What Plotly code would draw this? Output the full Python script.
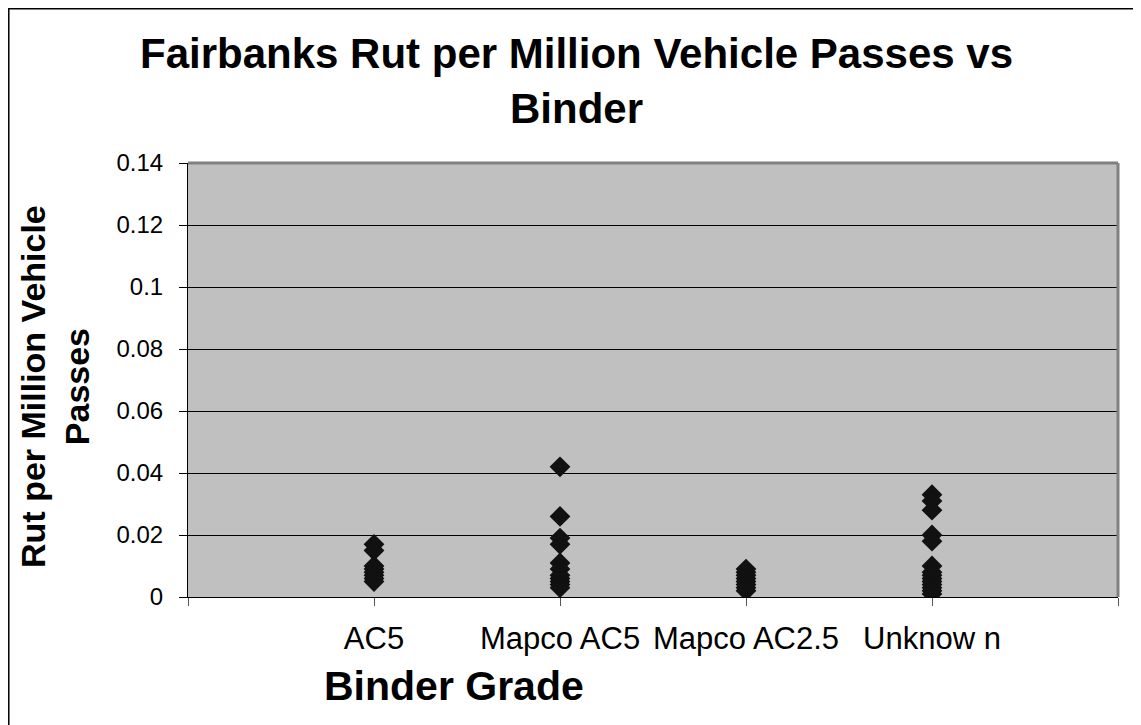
import plotly.graph_objects as go

categories = ["AC5", "Mapco AC5", "Mapco AC2.5", "Unknow n"]
ac5 = [0.017, 0.015, 0.010, 0.009, 0.008, 0.007, 0.006, 0.005]
mapco_ac5 = [0.042, 0.026, 0.019, 0.017, 0.011, 0.009, 0.007, 0.006, 0.005, 0.004, 0.003]
mapco_ac25 = [0.009, 0.008, 0.007, 0.006, 0.005, 0.004, 0.003, 0.002]
unknown = [0.033, 0.031, 0.028, 0.020, 0.018, 0.010, 0.008, 0.007, 0.006, 0.005,
           0.004, 0.003, 0.002, 0.001]
series = [ac5, mapco_ac5, mapco_ac25, unknown]
y_ticks = [0, 0.02, 0.04, 0.06, 0.08, 0.1, 0.12, 0.14]
y_tick_text = ["0", "0.02", "0.04", "0.06", "0.08", "0.1", "0.12", "0.14"]

xs, ys = [], []
for i, vals in enumerate(series):
    xs += [i + 1] * len(vals)
    ys += vals

FONT = "Liberation Sans, Arial, sans-serif"

fig = go.Figure()
fig.add_trace(go.Scatter(
    x=xs, y=ys, mode="markers",
    marker=dict(symbol="diamond", size=16, color="#111111", line=dict(width=0)),
    showlegend=False, hoverinfo="y",
))

fig.update_layout(
    width=1133, height=717,
    margin=dict(l=180, r=23, t=155, b=128),
    paper_bgcolor="white",
    plot_bgcolor="#C0C0C0",
    font=dict(family=FONT, color="black"),
    xaxis=dict(
        range=[0, 5], tickvals=[0, 1, 2, 3, 4, 5],
        ticktext=[""] + categories + [""],
        showgrid=False, zeroline=False,
        showline=True, linecolor="black", linewidth=1,
        ticks="outside", ticklen=8, tickcolor="#555555", tickwidth=1,
        tickfont=dict(size=31, family=FONT, color="black"),
        ticklabelstandoff=6,
        fixedrange=True,
    ),
    yaxis=dict(
        range=[0, 0.14], tickvals=y_ticks, ticktext=y_tick_text,
        showgrid=True, gridcolor="black", gridwidth=1,
        zeroline=False,
        showline=True, linecolor="black", linewidth=1,
        ticks="outside", ticklen=8, tickcolor="black", tickwidth=1,
        tickfont=dict(size=24, family=FONT, color="black"),
        ticklabelstandoff=11,
        fixedrange=True,
    ),
    shapes=[
        dict(type="line", xref="paper", yref="paper", x0=0, x1=1, y0=1, y1=1,
             line=dict(color="#808080", width=3), layer="above"),
        dict(type="line", xref="paper", yref="paper", x0=1, x1=1, y0=0, y1=1,
             line=dict(color="#808080", width=3), layer="above"),
        dict(type="rect", xref="paper", yref="paper",
             x0=-0.1927, x1=1.2, y0=-0.5, y1=1.3554,
             line=dict(color="black", width=1.5), fillcolor="rgba(0,0,0,0)",
             layer="above"),
    ],
    annotations=[
        dict(text="<b>Fairbanks Rut per Million Vehicle Passes vs<br>Binder</b>",
             xref="paper", yref="paper", x=0.418, y=1.19,
             xanchor="center", yanchor="middle", showarrow=False,
             font=dict(size=42, family=FONT, color="black")),
        dict(text="<b>Rut per Million Vehicle<br>Passes</b>",
             xref="paper", yref="paper", x=-0.143, y=0.484, textangle=-90,
             xanchor="center", yanchor="middle", showarrow=False,
             font=dict(size=34, family=FONT, color="black")),
        dict(text="<b>Binder Grade</b>",
             xref="paper", yref="paper", x=0.286, y=-0.205,
             xanchor="center", yanchor="middle", showarrow=False,
             font=dict(size=41, family=FONT, color="black")),
    ],
)

fig.write_html("out.html")
